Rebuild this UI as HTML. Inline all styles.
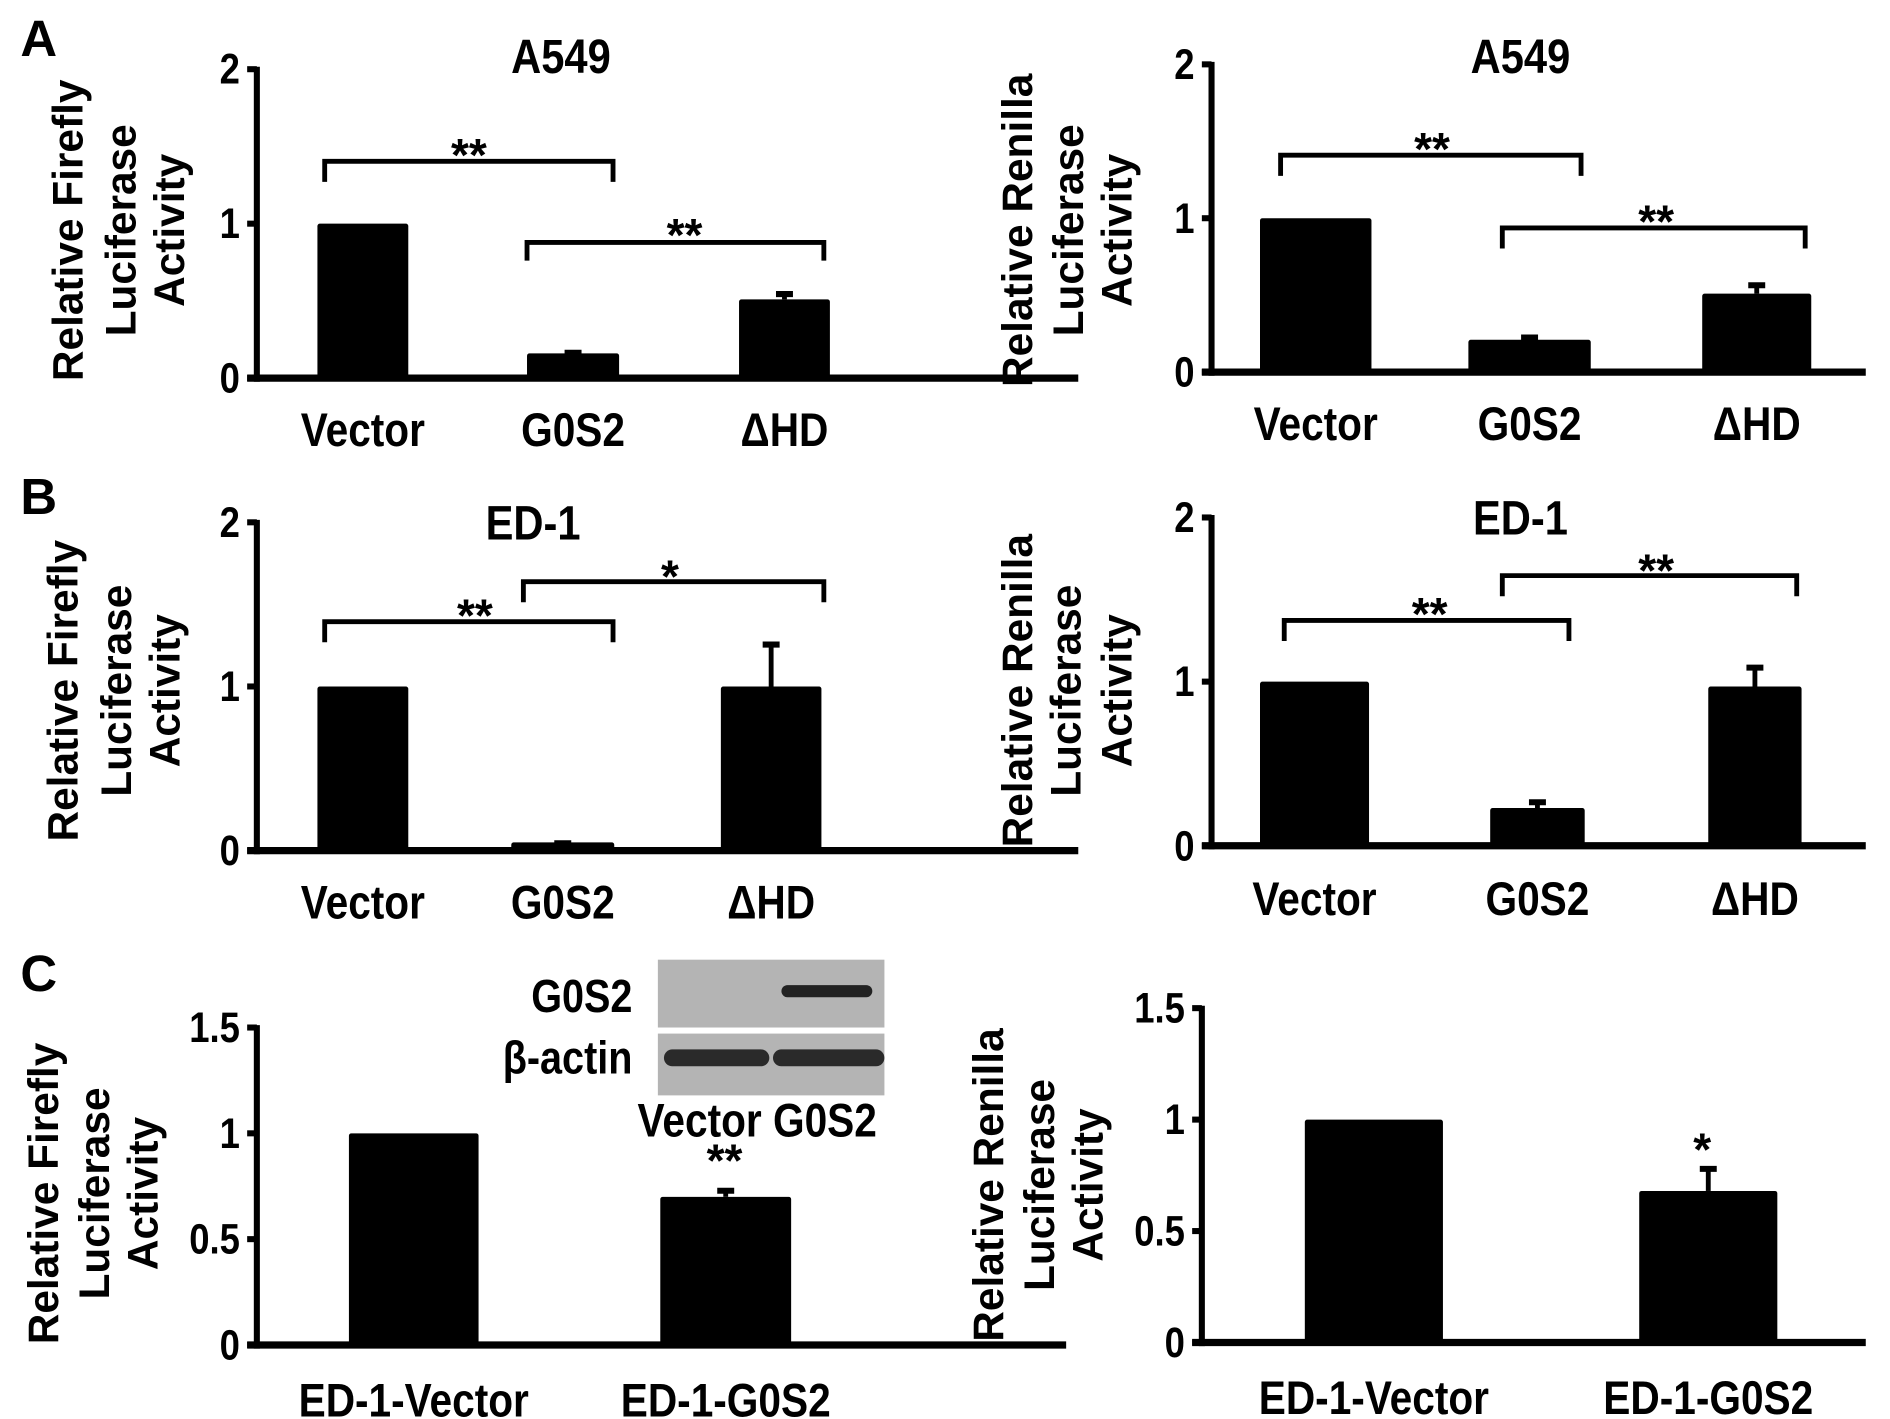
<!DOCTYPE html>
<html><head><meta charset="utf-8"><style>
html,body{margin:0;padding:0;background:#fff}
svg{display:block}
.n{font-family:"Liberation Sans",sans-serif;font-weight:bold}
.w{font-family:"Liberation Sans",sans-serif;font-weight:bold}
</style></head><body>
<svg id="fig" width="1890" height="1419" viewBox="0 0 1560 1171" xmlns="http://www.w3.org/2000/svg"></svg>
<script>
// ---- data ----
const catsABC = ["Vector", "G0S2", "\u0394HD"];
const catsC = ["ED-1-Vector", "ED-1-G0S2"];
const aFireflyVals = [1.0, 0.16, 0.51];
const aFireflyErr = [0, 0.02, 0.05];
const aRenillaVals = [1.0, 0.21, 0.51];
const aRenillaErr = [0, 0.03, 0.07];
const bFireflyVals = [1.0, 0.05, 1.0];
const bFireflyErr = [0, 0.01, 0.27];
const bRenillaVals = [1.0, 0.23, 0.97];
const bRenillaErr = [0, 0.05, 0.13];
const cFireflyVals = [1.0, 0.70];
const cFireflyErr = [0, 0.04];
const cRenillaVals = [1.0, 0.68];
const cRenillaErr = [0, 0.11];
const ticks2 = ["0", "1", "2"];
const ticks15 = ["0", "0.5", "1", "1.5"];

const NS = "http://www.w3.org/2000/svg";
const svg = document.getElementById("fig");
const SX = 0.86;
function el(tag, attrs, parent) {
  const e = document.createElementNS(NS, tag);
  for (const k in attrs) e.setAttribute(k, attrs[k]);
  (parent || svg).appendChild(e);
  return e;
}
function txt(s, x, y, size, cls, anchor, parent, narrow) {
  const t = el("text", {x: narrow ? x / SX : x, y: y, "font-size": size, class: cls, "text-anchor": anchor || "middle"}, parent);
  if (narrow) t.setAttribute("transform", "scale(" + SX + ",1)");
  t.textContent = s;
  return t;
}

const panels = [
  {id:"a-firefly", ax:212, y0:312, yTop:57, max:2, ticks:ticks2, xEnd:890, cats:catsABC, vals:aFireflyVals, err:aFireflyErr,
   bars:[[262,337],[435,511],[610,685]], labY:368, title:"A549", tx:463, ty:57, yt:["Relative Firefly","Luciferase","Activity"], ytx:[66,110,150], yty:190,
   brackets:[[268,506,133,150,"**",387,127],[435,680,200,215,"**",565,193]]},
  {id:"a-renilla", ax:1000, y0:307, yTop:53, max:2, ticks:ticks2, xEnd:1540, cats:catsABC, vals:aRenillaVals, err:aRenillaErr,
   bars:[[1040,1132],[1212,1313],[1405,1495]], labY:363, title:"A549", tx:1255, ty:57, yt:["Relative Renilla","Luciferase","Activity"], ytx:[850,892,932], yty:190,
   brackets:[[1057,1305,128,145,"**",1182,122],[1240,1490,188,205,"**",1367,182]]},
  {id:"b-firefly", ax:212, y0:702, yTop:431, max:2, ticks:ticks2, xEnd:890, cats:catsABC, vals:bFireflyVals, err:bFireflyErr,
   bars:[[262,337],[422,507],[595,678]], labY:758, title:"ED-1", tx:440, ty:442, yt:["Relative Firefly","Luciferase","Activity"], ytx:[62,106,146], yty:570,
   brackets:[[268,506,513,530,"**",392,507],[432,680,480,497,"*",553,475]]},
  {id:"b-renilla", ax:1000, y0:698, yTop:427, max:2, ticks:ticks2, xEnd:1540, cats:catsABC, vals:bRenillaVals, err:bRenillaErr,
   bars:[[1040,1130],[1230,1308],[1410,1487]], labY:755, title:"ED-1", tx:1255, ty:438, yt:["Relative Renilla","Luciferase","Activity"], ytx:[850,890,932], yty:570,
   brackets:[[1060,1295,512,529,"**",1180,506],[1240,1483,475,492,"**",1367,470]]},
  {id:"c-firefly", ax:212, y0:1110, yTop:848, max:1.5, ticks:ticks15, xEnd:880, cats:catsC, vals:cFireflyVals, err:cFireflyErr,
   bars:[[288,395],[545,653]], labY:1169, title:"", yt:["Relative Firefly","Luciferase","Activity"], ytx:[46,88,128], yty:985,
   brackets:[], stars:[["**",598,957]]},
  {id:"c-renilla", ax:992, y0:1108, yTop:832, max:1.5, ticks:ticks15, xEnd:1540, cats:catsC, vals:cRenillaVals, err:cRenillaErr,
   bars:[[1077,1191],[1353,1467]], labY:1167, title:"", yt:["Relative Renilla","Luciferase","Activity"], ytx:[826,868,908], yty:978,
   brackets:[], stars:[["*",1405,948]]}
];

panels.forEach(p => {
  const g = el("g", {});
  
  
  const yScale = v => p.y0 - (v / p.max) * (p.y0 - p.yTop);
  el("line", {x1:p.ax, y1:p.yTop - 2, x2:p.ax, y2:p.y0 + 3, stroke:"#000", "stroke-width":5}, g);
  el("line", {x1:p.ax - 8, y1:p.y0, x2:p.xEnd, y2:p.y0, stroke:"#000", "stroke-width":6}, g);
  p.ticks.forEach(t => {
    const y = yScale(parseFloat(t));
    el("line", {x1:p.ax - 8, y1:y, x2:p.ax, y2:y, stroke:"#000", "stroke-width":5}, g);
    const tl = txt(t, p.ax - 14, y + 12, 35, "n", "end", g, true);
    
    
  });
  p.vals.forEach((v, i) => {
    const [x1, x2] = p.bars[i];
    const cx = (x1 + x2) / 2;
    if (p.err[i] > 0) {
      const ye = yScale(v + p.err[i]);
      el("line", {x1:cx, y1:ye, x2:cx, y2:yScale(v), stroke:"#000", "stroke-width":4}, g);
      el("line", {x1:cx - 7, y1:ye + 2, x2:cx + 7, y2:ye + 2, stroke:"#000", "stroke-width":5}, g);
    }
    const r = el("rect", {x:x1, y:yScale(v), width:x2 - x1, height:p.y0 - yScale(v), fill:"#000", rx:2}, g);
    
    
    const lab = txt(p.cats[i], cx, p.labY, 39, "n", "middle", g, true);
    
    
  });
  if (p.title) {
    const t = txt(p.title, p.tx, p.ty + 3, 40, "w", "middle", g, true);
    
    
  }
  p.yt.forEach((s, i) => {
    const t = txt(s, 0, 0, 35, "w", "middle", g);
    t.setAttribute("transform", "translate(" + (p.ytx[i] + 2) + "," + p.yty + ") rotate(-90)");
    
    
  });
  p.brackets.forEach(b => {
    const [x1, x2, y, yb, s, sx, sy] = b;
    const pl = el("polyline", {points:x1+","+yb+" "+x1+","+y+" "+x2+","+y+" "+x2+","+yb, fill:"none", stroke:"#000", "stroke-width":4}, g);
    
    
    const st = txt(s, sx, sy + 14, 38, "w", "middle", g);
    
    
  });
  (p.stars || []).forEach(s => {
    const st = txt(s[0], s[1], s[2] + 14, 38, "w", "middle", g);
    
    
  });
});

[["A",32,46],["B",32,424],["C",32,818]].forEach(l => {
  const t = txt(l[0], l[1], l[2], 42, "w", "middle");
  
  
});

const wb = el("g", {});


el("rect", {x:543, y:792, width:187, height:56, fill:"#b4b4b4"}, wb);
el("rect", {x:543, y:853, width:187, height:51, fill:"#b4b4b4"}, wb);
el("rect", {x:645, y:813, width:75, height:10, rx:5, fill:"#222"}, wb);
el("rect", {x:548, y:866, width:87, height:14, rx:7, fill:"#2a2a2a"}, wb);
el("rect", {x:638, y:866, width:92, height:14, rx:7, fill:"#2a2a2a"}, wb);
txt("G0S2", 522, 835, 38, "n", "end", wb, true);
txt("\u03b2-actin", 522, 886, 38, "n", "end", wb, true);
txt("Vector G0S2", 625, 938, 39, "n", "middle", wb, true);
</script>
</body></html>
